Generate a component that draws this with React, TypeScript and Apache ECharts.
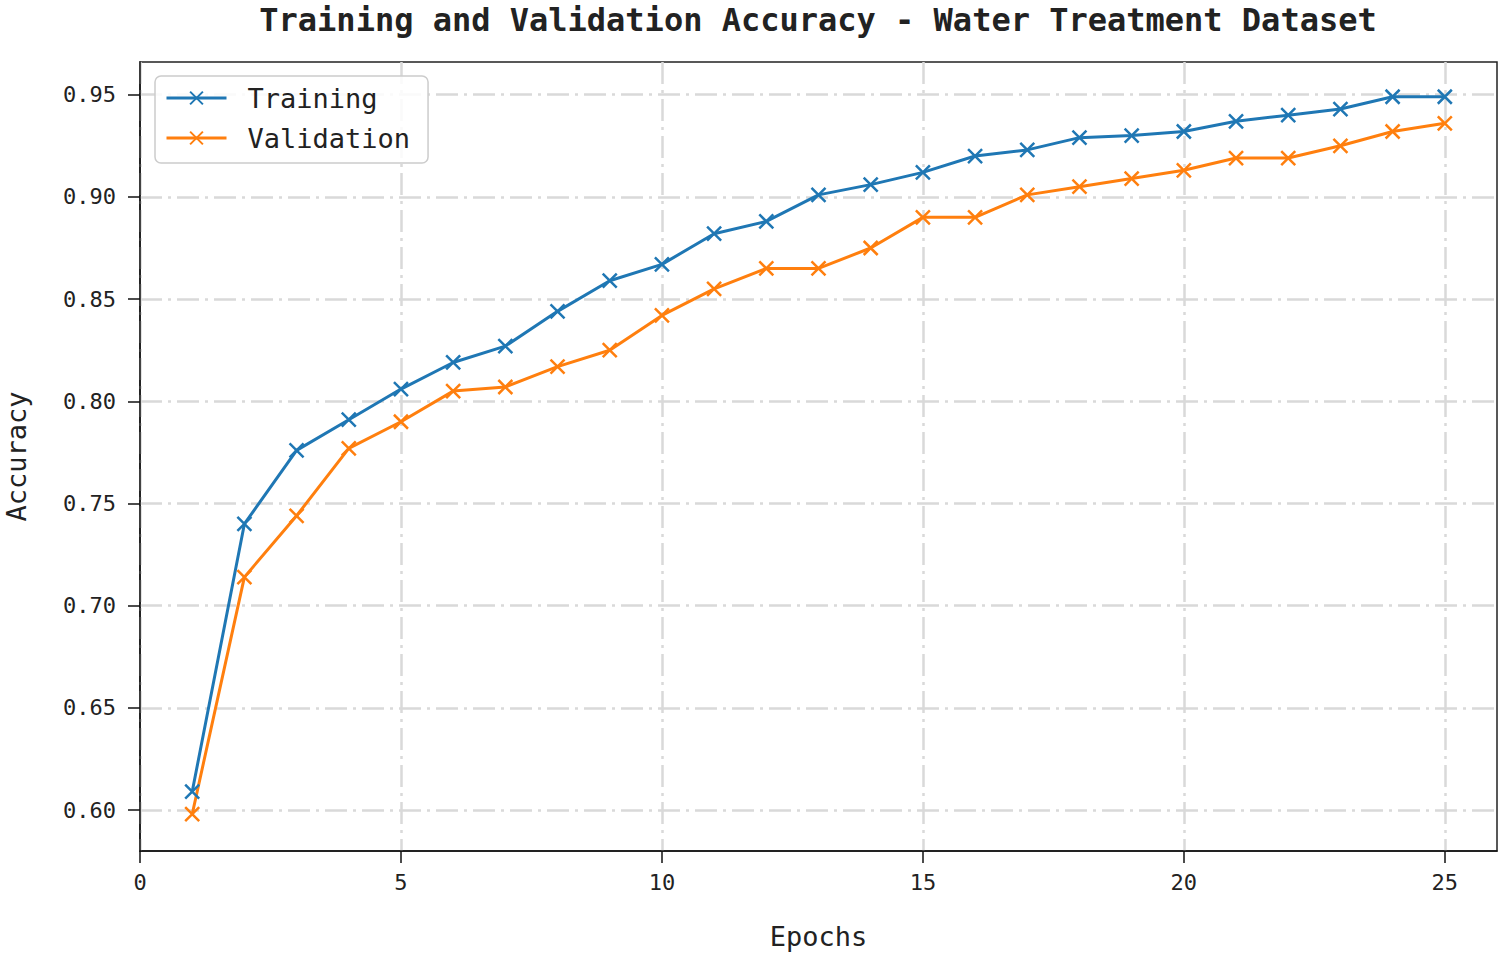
import React, { useEffect, useRef } from "react";
import * as echarts from "echarts";

const epochs = [1, 2, 3, 4, 5, 6, 7, 8, 9, 10, 11, 12, 13, 14, 15, 16, 17, 18, 19, 20, 21, 22, 23, 24, 25];
const trainingAcc = [0.609, 0.740, 0.776, 0.791, 0.806, 0.819, 0.827, 0.844, 0.859, 0.867, 0.882, 0.888, 0.901, 0.906, 0.912, 0.920, 0.923, 0.929, 0.930, 0.932, 0.937, 0.940, 0.943, 0.949, 0.949];
const validationAcc = [0.598, 0.714, 0.744, 0.777, 0.790, 0.805, 0.807, 0.817, 0.825, 0.842, 0.855, 0.865, 0.865, 0.875, 0.890, 0.890, 0.901, 0.905, 0.909, 0.913, 0.919, 0.919, 0.925, 0.932, 0.936];
const xTicks = [0, 5, 10, 15, 20, 25];
const yTicks = [0.6, 0.65, 0.7, 0.75, 0.8, 0.85, 0.9, 0.95];
const seriesNames = ["Training", "Validation"];
const colors = ["#1f77b4", "#ff7f0e"];
const titleText = "Training and Validation Accuracy - Water Treatment Dataset";

const FONT = "'DejaVu Sans Mono', 'Liberation Mono', monospace";
const XMARK = "path://M0,0L10,10M0,10L10,0";

export default function App() {
  const ref = useRef<HTMLDivElement>(null);
  useEffect(() => {
    if (!ref.current) return;
    const chart = echarts.init(ref.current, undefined, { renderer: "svg" });
    const gridLine = { show: true, lineStyle: { color: "#d9d9d9", width: 2.5, type: [22, 6, 3, 6] } };
    const mk = (name: string, data: number[], color: string) => ({
      name,
      type: "line",
      data: epochs.map((e, i) => [e, data[i]]),
      symbol: XMARK,
      symbolSize: 14,
      showAllSymbol: true,
      lineStyle: { color, width: 3 },
      itemStyle: { color, borderColor: color, borderWidth: 2.5 },
      z: 3,
    });
    chart.setOption({
      animation: false,
      backgroundColor: "#ffffff",
      textStyle: { fontFamily: FONT },
      graphic: [
        {
          type: "text",
          x: 818,
          y: 20,
          style: {
            text: titleText,
            textAlign: "center",
            textVerticalAlign: "middle",
            font: `bold 32px ${FONT}`,
            fill: "#222",
          },
        },
      ],
      grid: {
        left: 140,
        top: 62,
        width: 1357,
        height: 789,
        show: true,
        borderColor: "#222",
        borderWidth: 1.5,
        containLabel: false,
        outerBoundsMode: "none",
      },
      legend: {
        orient: "vertical",
        left: 155,
        top: 76,
        data: seriesNames,
        backgroundColor: "rgba(255,255,255,0.85)",
        borderColor: "#cccccc",
        borderWidth: 1.5,
        borderRadius: 6,
        padding: [7, 18, 10, 10],
        itemWidth: 60,
        itemHeight: 16,
        itemGap: 10,
        lineStyle: { width: 3 },
        textStyle: { fontFamily: FONT, fontSize: 27, color: "#222", lineHeight: 30, padding: [0, 0, 0, 16] },
      },
      xAxis: {
        type: "value",
        min: 0,
        max: 26,
        name: "Epochs",
        nameLocation: "middle",
        nameGap: 72,
        nameTextStyle: { fontFamily: FONT, fontSize: 27, color: "#222" },
        axisLine: { show: true, onZero: false, lineStyle: { color: "#111", width: 1.5 } },
        axisTick: { show: true, length: 12, lineStyle: { color: "#111", width: 1.5 }, customValues: xTicks },
        axisLabel: { fontFamily: FONT, fontSize: 22, color: "#222", margin: 20, customValues: xTicks },
        splitLine: gridLine,
      },
      yAxis: {
        type: "value",
        min: 0.58,
        max: 0.966,
        name: "Accuracy",
        nameLocation: "middle",
        nameGap: 110,
        nameTextStyle: { fontFamily: FONT, fontSize: 27, color: "#222" },
        axisLine: { show: true, onZero: false, lineStyle: { color: "#111", width: 1.5 } },
        axisTick: { show: true, length: 12, lineStyle: { color: "#111", width: 1.5 }, customValues: yTicks },
        axisLabel: {
          fontFamily: FONT,
          fontSize: 22,
          color: "#222",
          margin: 24,
          customValues: yTicks,
          formatter: (v: number) => v.toFixed(2),
        },
        splitLine: gridLine,
      },
      series: [mk(seriesNames[0], trainingAcc, colors[0]), mk(seriesNames[1], validationAcc, colors[1])],
    });
    return () => chart.dispose();
  }, []);
  return (
    <div
      ref={ref}
      style={{ position: "absolute", left: 0, top: 0, width: 1504, height: 957 }}
    />
  );
}
